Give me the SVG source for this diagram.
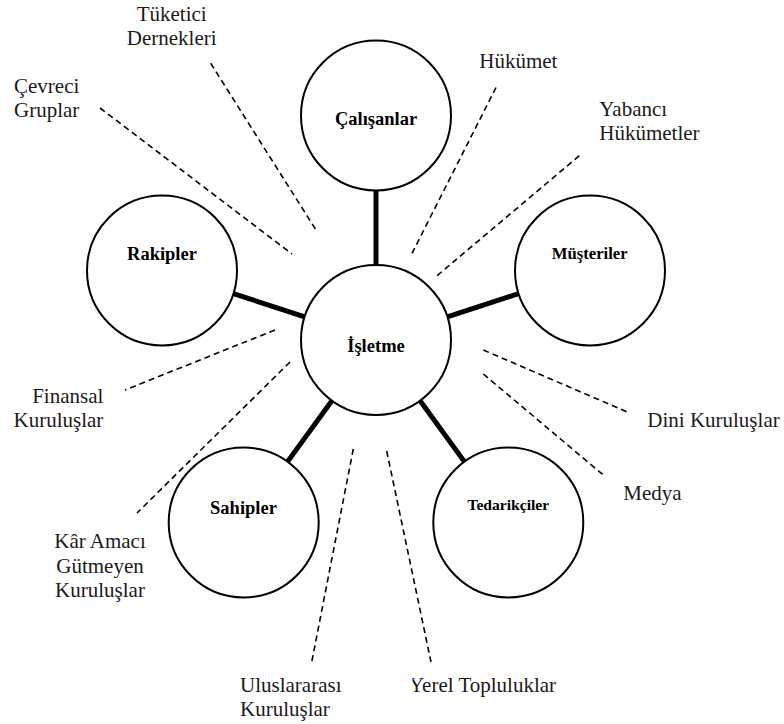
<svg xmlns="http://www.w3.org/2000/svg" width="784" height="724" viewBox="0 0 784 724">
  <style>
    .node circle { fill: #ffffff; stroke: #000000; stroke-width: 2; }
    .node text { font-family: "Liberation Serif", "Times New Roman", serif; font-weight: bold; fill: #000000; text-anchor: middle; }
    .tie { stroke: #000000; stroke-width: 5; stroke-linecap: butt; }
    .dash { stroke: #000000; stroke-width: 1.6; stroke-dasharray: 6 4; fill: none; }
    .label { font-family: "Liberation Serif", "Times New Roman", serif; font-size: 21px; fill: #1a1a1a; }
    .mid { text-anchor: middle; }
    .end { text-anchor: end; }
  </style>
  <defs>
    <clipPath id="yerelClip">
      <rect x="412.5" y="660" width="200" height="50"/>
    </clipPath>
  </defs>
  <rect width="784" height="724" fill="#ffffff"/>

  <!-- solid ties between the firm and its direct stakeholders -->
  <g id="ties">
    <line class="tie" x1="376" y1="190" x2="376" y2="265"/>
    <line class="tie" x1="233.4" y1="293.6" x2="304.7" y2="316.8"/>
    <line class="tie" x1="518.6" y1="293.6" x2="447.3" y2="316.8"/>
    <line class="tie" x1="287.8" y1="461.4" x2="331.9" y2="400.7"/>
    <line class="tie" x1="464.2" y1="461.4" x2="420.1" y2="400.7"/>
  </g>

  <!-- dashed links to the wider environment -->
  <g id="links">
    <line class="dash" x1="210.7" y1="63.3" x2="316" y2="230"/>
    <line class="dash" x1="100" y1="108" x2="292" y2="254"/>
    <line class="dash" x1="496" y1="87.5" x2="411.7" y2="254"/>
    <line class="dash" x1="579.3" y1="155.7" x2="435.5" y2="277"/>
    <line class="dash" x1="275" y1="330" x2="125" y2="390"/>
    <line class="dash" x1="290" y1="362" x2="137" y2="513"/>
    <line class="dash" x1="353.3" y1="449" x2="311.7" y2="662"/>
    <line class="dash" x1="386.7" y1="451" x2="431" y2="662"/>
    <line class="dash" x1="483.3" y1="350" x2="626.7" y2="411.7"/>
    <line class="dash" x1="483.3" y1="374" x2="603.3" y2="475"/>
  </g>

  <g id="node-calisanlar" class="node">
    <circle cx="376" cy="115.5" r="75"/>
    <text x="376" y="125" font-size="18.5">Çalışanlar</text>
  </g>
  <g id="node-rakipler" class="node">
    <circle cx="162" cy="270.5" r="75"/>
    <text x="162" y="260" font-size="18.5">Rakipler</text>
  </g>
  <g id="node-musteriler" class="node">
    <circle cx="590" cy="270.5" r="75"/>
    <text x="589.7" y="259" font-size="16.7">Müşteriler</text>
  </g>
  <g id="node-isletme" class="node">
    <circle cx="376" cy="340" r="75"/>
    <text x="376" y="352" font-size="18.5">İşletme</text>
  </g>
  <g id="node-sahipler" class="node">
    <circle cx="243.7" cy="522.5" r="75"/>
    <text x="243.5" y="514" font-size="18.5">Sahipler</text>
  </g>
  <g id="node-tedarikciler" class="node">
    <circle cx="508.3" cy="522.5" r="75"/>
    <text x="508.3" y="510" font-size="15.6">Tedarikçiler</text>
  </g>

  <!-- environment labels -->
  <g id="environment">
    <text class="label mid" x="171.7" y="20.5">Tüketici</text>
    <text class="label mid" x="171.7" y="45">Dernekleri</text>
    <text class="label" x="14" y="93">Çevreci</text>
    <text class="label" x="14" y="117">Gruplar</text>
    <text class="label" x="479.3" y="68">Hükümet</text>
    <text class="label" x="599.3" y="116">Yabancı</text>
    <text class="label" x="599.3" y="140">Hükümetler</text>
    <text class="label end" x="103.3" y="403">Finansal</text>
    <text class="label end" x="103.3" y="427">Kuruluşlar</text>
    <text class="label mid" x="100" y="548">Kâr Amacı</text>
    <text class="label mid" x="100" y="572.5">Gütmeyen</text>
    <text class="label mid" x="100" y="597">Kuruluşlar</text>
    <text class="label" x="240" y="691.7">Uluslararası</text>
    <text class="label" x="240" y="715.5">Kuruluşlar</text>
    <text class="label" x="409" y="691.7" clip-path="url(#yerelClip)">Yerel Topluluklar</text>
    <text class="label" x="647.3" y="427">Dini Kuruluşlar</text>
    <text class="label" x="623.3" y="500">Medya</text>
  </g>
</svg>
